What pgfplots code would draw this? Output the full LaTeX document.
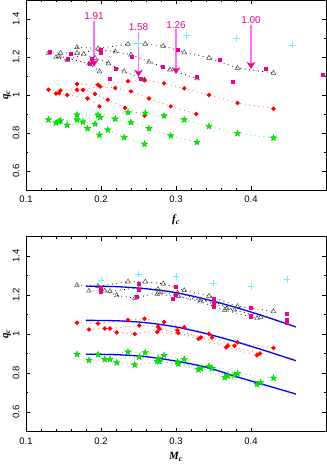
\documentclass[border=0pt]{standalone}
\usepackage{fontspec}
\setmainfont{Liberation Sans}
\newfontfamily\lserif{Liberation Serif}
\usepackage{pgfplots}
\pgfplotsset{compat=1.18}
\usetikzlibrary{arrows.meta}
\definecolor{mgreen}{HTML}{00F000}
\definecolor{lgreen}{HTML}{66F066}
\definecolor{lred}{HTML}{FF7070}
\definecolor{lcyan}{HTML}{70F0FF}
\definecolor{pinkarr}{HTML}{FF70FF}

% filled five-point star
\pgfdeclareplotmark{fstar}{%
  \pgfpathmoveto{\pgfqpoint{0pt}{\pgfplotmarksize}}%
  \pgfpathlineto{\pgfqpoint{0.235\pgfplotmarksize}{0.324\pgfplotmarksize}}%
  \pgfpathlineto{\pgfqpoint{0.951\pgfplotmarksize}{0.309\pgfplotmarksize}}%
  \pgfpathlineto{\pgfqpoint{0.380\pgfplotmarksize}{-0.124\pgfplotmarksize}}%
  \pgfpathlineto{\pgfqpoint{0.588\pgfplotmarksize}{-0.809\pgfplotmarksize}}%
  \pgfpathlineto{\pgfqpoint{0pt}{-0.4\pgfplotmarksize}}%
  \pgfpathlineto{\pgfqpoint{-0.588\pgfplotmarksize}{-0.809\pgfplotmarksize}}%
  \pgfpathlineto{\pgfqpoint{-0.380\pgfplotmarksize}{-0.124\pgfplotmarksize}}%
  \pgfpathlineto{\pgfqpoint{-0.951\pgfplotmarksize}{0.309\pgfplotmarksize}}%
  \pgfpathlineto{\pgfqpoint{-0.235\pgfplotmarksize}{0.324\pgfplotmarksize}}%
  \pgfpathclose
  \pgfusepathqfillstroke}

\tikzset{
  marr/.style={pinkarr, line width=1.3pt, -{Stealth[length=7pt, width=8.5pt, inset=2pt, magenta]}},
  mlab/.style={text=magenta, font=\fontsize{10}{11}\selectfont, anchor=center},
}
\pgfplotsset{
  panel/.style={
    scale only axis, width=300pt,
    xmin=0.1, xmax=0.5, ymin=0.5, ymax=1.5,
    xtick={0.1,0.2,0.3,0.4}, ytick={0.6,0.8,1,1.2,1.4},
    minor x tick num=4, minor y tick num=1,
    tick align=inside, major tick length=4pt, minor tick length=2.2pt,
    every tick/.style={black, line width=0.5pt},
    axis line style={line width=0.7pt},
    /pgf/number format/assume math mode=true,
    xticklabel style={font=\fontsize{9.5}{10}\selectfont, yshift=-2.5pt},
    yticklabel style={font=\fontsize{9.5}{10}\selectfont, rotate=90, anchor=south, yshift=3pt},
    xlabel style={at={(axis description cs:0.5,0)}, anchor=center, font=\fontsize{11}{12}\selectfont},
    ylabel style={at={(axis description cs:0,0.5)}, anchor=center, yshift=19pt, font=\fontsize{11}{12}\selectfont},
    clip=false,
  },
  tri/.style={black, line width=0.8pt, dash pattern=on 0.8pt off 3.6pt,
    mark=triangle, mark size=2.7pt, mark options={solid, draw=black!75, fill=white, line width=0.45pt}},
  rdot/.style={lred, line width=0.9pt, dash pattern=on 0.9pt off 3.6pt,
    mark=*, mark size=1.7pt, mark options={solid, fill=red, draw=red}},
  gst/.style={lgreen, line width=0.9pt, dash pattern=on 0.9pt off 3.6pt,
    mark=fstar, mark size=3.4pt, mark options={solid, fill=mgreen, draw=mgreen!80!black, line width=0.3pt}},
  msq/.style={only marks, mark=square*, mark size=1.5pt, mark options={fill=magenta, draw=magenta}},
  cpl/.style={only marks, mark=+, mark size=3.3pt, mark options={draw=lcyan, line width=0.6pt}},
  bfit/.style={blue, line width=1.3pt, smooth, no marks},
}

\begin{document}
\begin{tikzpicture}
%% ---------------- top panel: q_c vs f_c ----------------
\begin{axis}[panel, height=190pt,
  xlabel={\lserif\bfseries\itshape f\textsubscript{c}},
  xlabel style={yshift=-30pt},
  ylabel={\lserif\bfseries\itshape q\textsubscript{c}},
]
% triangles
\addplot[tri] coordinates {(0.168,1.251) (0.196,1.245) (0.236,1.268) (0.259,1.268) (0.283,1.258) (0.311,1.224) (0.344,1.195) (0.382,1.142) (0.43,1.116)};
\addplot[tri] coordinates {(0.13,1.221) (0.146,1.221) (0.168,1.22) (0.199,1.237) (0.219,1.229) (0.24,1.212) (0.264,1.175) (0.292,1.133) (0.328,1.087)};
\addplot[tri] coordinates {(0.14,1.198) (0.155,1.184) (0.177,1.215) (0.192,1.195) (0.21,1.166) (0.231,1.123) (0.258,1.08)};
\addplot[tri] coordinates {(0.144,1.205) (0.184,1.165) (0.198,1.124)};
% red
\addplot[rdot] coordinates {(0.168,1.058) (0.196,1.054) (0.236,1.072) (0.258,1.078) (0.284,1.061) (0.311,1.035) (0.344,1.0) (0.382,0.958) (0.43,0.928)};
\addplot[rdot] coordinates {(0.13,1.028) (0.146,1.023) (0.168,1.028) (0.199,1.044) (0.219,1.037) (0.24,1.019) (0.264,0.982) (0.293,0.94) (0.327,0.9)};
\addplot[rdot] coordinates {(0.14,1.008) (0.155,1.0) (0.176,1.026) (0.192,1.005) (0.209,0.975) (0.232,0.932) (0.258,0.891)};
\addplot[rdot] coordinates {(0.144,1.01) (0.182,0.982) (0.198,0.94)};
% green
\addplot[gst] coordinates {(0.168,0.896) (0.196,0.895) (0.236,0.908) (0.259,0.905) (0.284,0.891) (0.311,0.87) (0.344,0.835) (0.382,0.798) (0.43,0.774)};
\addplot[gst] coordinates {(0.13,0.87) (0.146,0.865) (0.168,0.87) (0.199,0.882) (0.219,0.874) (0.24,0.856) (0.264,0.824) (0.293,0.786) (0.328,0.751)};
\addplot[gst] coordinates {(0.14,0.853) (0.155,0.842) (0.176,0.859) (0.192,0.847) (0.209,0.817) (0.231,0.777) (0.258,0.742)};
\addplot[gst] coordinates {(0.144,0.86) (0.182,0.824) (0.198,0.789)};
% magenta squares
\addplot[msq] coordinates {(0.132,1.228) (0.156,1.189) (0.159,1.219) (0.185,1.163) (0.188,1.19) (0.2,1.237) (0.199,1.221) (0.22,1.14) (0.211,1.087) (0.241,1.203) (0.253,1.087) (0.282,1.15) (0.302,1.24) (0.327,1.096) (0.358,1.184) (0.376,1.07) (0.42,1.137) (0.495,1.107)};
% cyan crosses
\addplot[cpl] coordinates {(0.25,1.27) (0.314,1.312) (0.381,1.298) (0.455,1.263)};
% arrows
\draw[marr] (axis cs:0.1907,1.39) -- (axis cs:0.1907,1.149);
\draw[marr] (axis cs:0.25,1.333) -- (axis cs:0.25,1.096);
\draw[marr] (axis cs:0.30,1.345) -- (axis cs:0.30,1.11);
\draw[marr] (axis cs:0.40,1.37) -- (axis cs:0.40,1.137);
\node[mlab] at (axis cs:0.1907,1.413) {1.91};
\node[mlab] at (axis cs:0.25,1.356) {1.58};
\node[mlab] at (axis cs:0.30,1.37) {1.26};
\node[mlab] at (axis cs:0.40,1.393) {1.00};
\end{axis}

%% ---------------- bottom panel: q_c vs M_c ----------------
\begin{axis}[panel, height=195pt, at={(0,-241.5pt)}, anchor=south west,
  xlabel={\lserif\bfseries\itshape M\textsubscript{c}},
  xlabel style={yshift=-25.5pt},
  ylabel={\lserif\bfseries\itshape q\textsubscript{c}},
]
% triangles
\addplot[tri] coordinates {(0.168,1.251) (0.196,1.245) (0.236,1.268) (0.259,1.268) (0.283,1.258) (0.311,1.224) (0.344,1.195) (0.382,1.142) (0.43,1.116)};
\addplot[tri] coordinates {(0.184,1.221) (0.212,1.22) (0.251,1.237) (0.276,1.229) (0.302,1.212) (0.333,1.175) (0.368,1.133) (0.413,1.087)};
\addplot[tri] coordinates {(0.205,1.221) (0.221,1.198) (0.245,1.184) (0.28,1.215) (0.303,1.195) (0.332,1.166) (0.365,1.123) (0.408,1.08)};
\addplot[tri] coordinates {(0.275,1.205) (0.351,1.165) (0.378,1.124)};
% red
\addplot[rdot] coordinates {(0.168,1.058) (0.196,1.054) (0.236,1.072) (0.258,1.078) (0.284,1.061) (0.311,1.035) (0.344,1.0) (0.382,0.958) (0.43,0.928)};
\addplot[rdot] coordinates {(0.184,1.023) (0.212,1.028) (0.251,1.044) (0.276,1.037) (0.302,1.019) (0.333,0.982) (0.369,0.94) (0.412,0.9)};
\addplot[rdot] coordinates {(0.205,1.028) (0.221,1.008) (0.245,1.0) (0.278,1.026) (0.303,1.005) (0.33,0.975) (0.367,0.932) (0.408,0.891)};
\addplot[rdot] coordinates {(0.275,1.01) (0.348,0.982) (0.378,0.94)};
% green
\addplot[gst] coordinates {(0.168,0.896) (0.196,0.895) (0.236,0.908) (0.259,0.905) (0.284,0.891) (0.311,0.87) (0.344,0.835) (0.382,0.798) (0.43,0.774)};
\addplot[gst] coordinates {(0.184,0.865) (0.212,0.87) (0.251,0.882) (0.276,0.874) (0.302,0.856) (0.333,0.824) (0.369,0.786) (0.413,0.751)};
\addplot[gst] coordinates {(0.205,0.87) (0.221,0.853) (0.245,0.842) (0.278,0.859) (0.303,0.847) (0.33,0.817) (0.365,0.777) (0.408,0.742)};
\addplot[gst] coordinates {(0.275,0.86) (0.348,0.824) (0.378,0.789)};
% magenta squares
\addplot[msq] coordinates {(0.2,1.239) (0.2,1.218) (0.25,1.26) (0.25,1.225) (0.248,1.19) (0.3,1.242) (0.3,1.204) (0.296,1.181) (0.35,1.183) (0.35,1.16) (0.35,1.14) (0.4,1.134) (0.4,1.094) (0.4,1.087) (0.448,1.105) (0.448,1.073) (0.447,1.056)};
% cyan crosses
\addplot[cpl] coordinates {(0.2,1.277) (0.25,1.308) (0.3,1.294) (0.35,1.261) (0.4,1.244) (0.448,1.279)};
% fitted curves
\addplot[bfit] coordinates {(0.18,1.245) (0.22,1.243) (0.26,1.232) (0.30,1.212) (0.34,1.178) (0.38,1.136) (0.42,1.088) (0.46,1.036)};
\addplot[bfit] coordinates {(0.18,1.07) (0.22,1.068) (0.26,1.058) (0.30,1.036) (0.34,1.002) (0.38,0.96) (0.42,0.913) (0.46,0.863)};
\addplot[bfit] coordinates {(0.18,0.896) (0.22,0.894) (0.26,0.884) (0.30,0.861) (0.34,0.83) (0.38,0.782) (0.42,0.737) (0.46,0.692)};
\end{axis}
\pgfresetboundingbox
\path (-26pt,-274pt) rectangle (301pt,190pt);
\end{tikzpicture}
\end{document}
